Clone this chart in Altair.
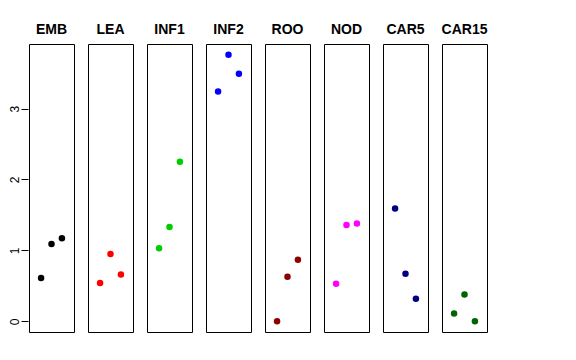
import altair as alt
import pandas as pd

panels = ["EMB", "LEA", "INF1", "INF2", "ROO", "NOD", "CAR5", "CAR15"]
colors = ["#000000", "#FF0000", "#00CD00", "#0000FF", "#8B0000", "#FF00FF", "#000080", "#006400"]
positions = [1, 2, 3]

emb = [0.61, 1.09, 1.17]
lea = [0.54, 0.95, 0.66]
inf1 = [1.03, 1.33, 2.25]
inf2 = [3.24, 3.76, 3.49]
roo = [0.00, 0.63, 0.87]
nod = [0.53, 1.36, 1.38]
car5 = [1.59, 0.67, 0.32]
car15 = [0.11, 0.38, 0.00]

series = [emb, lea, inf1, inf2, roo, nod, car5, car15]
rows = []
for name, vals in zip(panels, series):
    for p, v in zip(positions, vals):
        rows.append({"panel": name, "pos": p, "value": v})
df = pd.DataFrame(rows)

base = alt.Chart(df).mark_circle(size=42, opacity=1).encode(
    x=alt.X("pos:Q", scale=alt.Scale(domain=[-0.16, 4.16], nice=False, zero=False), axis=None),
    y=alt.Y(
        "value:Q",
        scale=alt.Scale(domain=[-0.15, 3.91], nice=False, zero=False),
        axis=alt.Axis(
            values=[0, 1, 2, 3], title=None, grid=False, domain=False,
            tickSize=7, tickColor="black", labelColor="black",
            labelFont="Liberation Sans", labelFontSize=12, labelAngle=-90,
            labelPadding=0, format="d",
        ),
    ),
    color=alt.Color("panel:N", scale=alt.Scale(domain=panels, range=colors), legend=None),
).properties(width=45, height=288)

chart = base.facet(
    column=alt.Column(
        "panel:N", sort=panels,
        header=alt.Header(
            title=None, labelFontWeight="bold", labelFontSize=14,
            labelFont="Liberation Sans", labelColor="black", labelPadding=6,
        ),
    )
).configure_facet(spacing=12).configure_view(stroke="black", strokeWidth=1).properties(
    padding={"left": 0, "top": 15, "right": 5, "bottom": 5}
)

chart.save("out.html", embed_options={"renderer": "svg", "actions": False})
